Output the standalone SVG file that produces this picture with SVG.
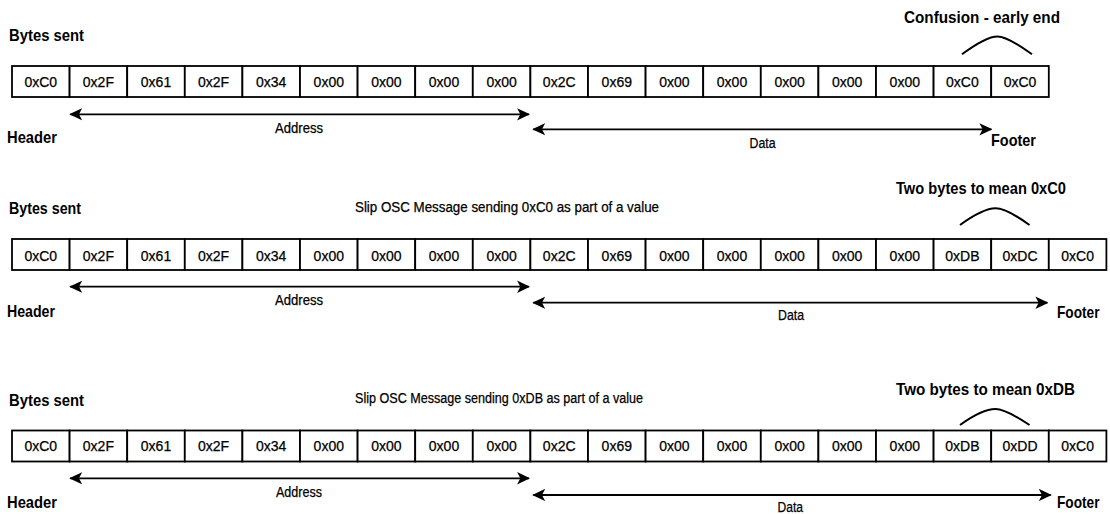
<svg xmlns="http://www.w3.org/2000/svg" width="1110" height="514" viewBox="0 0 1110 514">
<style>
.bg{fill:#fff}
.c rect{fill:#fff;stroke:#000;stroke-width:1.8}
.c text{font-family:"Liberation Sans",Arial,sans-serif;font-size:14px;text-anchor:middle;fill:#000;stroke:#000;stroke-width:0.25}
.b{font-family:"Liberation Sans",Arial,sans-serif;font-weight:bold;font-size:17px;fill:#000}
.r{font-family:"Liberation Sans",Arial,sans-serif;font-size:14px;fill:#000;stroke:#000;stroke-width:0.25}
.ln{stroke:#000;stroke-width:1.8;fill:none;marker-start:url(#ah);marker-end:url(#ah)}
.arc{stroke:#000;stroke-width:2;fill:none}
</style>
<defs>
<marker id="ah" viewBox="0 0 12 12" refX="11" refY="6" markerWidth="13" markerHeight="13" markerUnits="userSpaceOnUse" orient="auto-start-reverse">
<path d="M0,0.3 L12,6 L0,11.7 L3,6 Z" fill="#000"/>
</marker>
</defs>
<rect class="bg" x="0" y="0" width="1110" height="514"/>

<!-- Row 1 labels -->
<g id="row1-labels">
<text class="b" x="9" y="40.5" textLength="75" lengthAdjust="spacingAndGlyphs">Bytes sent</text>
<text class="b" x="904" y="23.3" textLength="156" lengthAdjust="spacingAndGlyphs">Confusion - early end</text>
<text class="b" x="7" y="143.3" textLength="50" lengthAdjust="spacingAndGlyphs">Header</text>
<text class="b" x="991" y="145.7" textLength="45" lengthAdjust="spacingAndGlyphs">Footer</text>
<text class="r" x="275" y="132.7" textLength="48" lengthAdjust="spacingAndGlyphs">Address</text>
<text class="r" x="749.5" y="147.7" textLength="26" lengthAdjust="spacingAndGlyphs">Data</text>
</g>

<!-- Row 1 cells -->
<g id="r1c0" class="c"><rect x="12" y="66" width="57.6" height="31"/><text x="40.8" y="87.3">0xC0</text></g>
<g id="r1c1" class="c"><rect x="69.6" y="66" width="57.6" height="31"/><text x="98.4" y="87.3">0x2F</text></g>
<g id="r1c2" class="c"><rect x="127.2" y="66" width="57.6" height="31"/><text x="156" y="87.3">0x61</text></g>
<g id="r1c3" class="c"><rect x="184.8" y="66" width="57.6" height="31"/><text x="213.6" y="87.3">0x2F</text></g>
<g id="r1c4" class="c"><rect x="242.4" y="66" width="57.6" height="31"/><text x="271.2" y="87.3">0x34</text></g>
<g id="r1c5" class="c"><rect x="300" y="66" width="57.6" height="31"/><text x="328.8" y="87.3">0x00</text></g>
<g id="r1c6" class="c"><rect x="357.6" y="66" width="57.6" height="31"/><text x="386.4" y="87.3">0x00</text></g>
<g id="r1c7" class="c"><rect x="415.2" y="66" width="57.6" height="31"/><text x="444" y="87.3">0x00</text></g>
<g id="r1c8" class="c"><rect x="472.8" y="66" width="57.6" height="31"/><text x="501.6" y="87.3">0x00</text></g>
<g id="r1c9" class="c"><rect x="530.4" y="66" width="57.6" height="31"/><text x="559.2" y="87.3">0x2C</text></g>
<g id="r1c10" class="c"><rect x="588" y="66" width="57.6" height="31"/><text x="616.8" y="87.3">0x69</text></g>
<g id="r1c11" class="c"><rect x="645.6" y="66" width="57.6" height="31"/><text x="674.4" y="87.3">0x00</text></g>
<g id="r1c12" class="c"><rect x="703.2" y="66" width="57.6" height="31"/><text x="732" y="87.3">0x00</text></g>
<g id="r1c13" class="c"><rect x="760.8" y="66" width="57.6" height="31"/><text x="789.6" y="87.3">0x00</text></g>
<g id="r1c14" class="c"><rect x="818.4" y="66" width="57.6" height="31"/><text x="847.2" y="87.3">0x00</text></g>
<g id="r1c15" class="c"><rect x="876" y="66" width="57.6" height="31"/><text x="904.8" y="87.3">0x00</text></g>
<g id="r1c16" class="c"><rect x="933.6" y="66" width="57.6" height="31"/><text x="962.4" y="87.3">0xC0</text></g>
<g id="r1c17" class="c"><rect x="991.2" y="66" width="57.6" height="31"/><text x="1020" y="87.3">0xC0</text></g>

<!-- Row 2 labels -->
<g id="row2-labels">
<text class="b" x="9" y="214" textLength="72" lengthAdjust="spacingAndGlyphs">Bytes sent</text>
<text class="r" x="355" y="211.7" textLength="304" lengthAdjust="spacingAndGlyphs">Slip OSC Message sending 0xC0 as part of a value</text>
<text class="b" x="896" y="194" textLength="170" lengthAdjust="spacingAndGlyphs">Two bytes to mean 0xC0</text>
<text class="b" x="7" y="316.7" textLength="48" lengthAdjust="spacingAndGlyphs">Header</text>
<text class="b" x="1057" y="317.7" textLength="42.5" lengthAdjust="spacingAndGlyphs">Footer</text>
<text class="r" x="275" y="305" textLength="48" lengthAdjust="spacingAndGlyphs">Address</text>
<text class="r" x="778" y="320" textLength="26" lengthAdjust="spacingAndGlyphs">Data</text>
</g>

<!-- Row 2 cells -->
<g id="r2c0" class="c"><rect x="12" y="239" width="57.6" height="31"/><text x="40.8" y="260.5">0xC0</text></g>
<g id="r2c1" class="c"><rect x="69.6" y="239" width="57.6" height="31"/><text x="98.4" y="260.5">0x2F</text></g>
<g id="r2c2" class="c"><rect x="127.2" y="239" width="57.6" height="31"/><text x="156" y="260.5">0x61</text></g>
<g id="r2c3" class="c"><rect x="184.8" y="239" width="57.6" height="31"/><text x="213.6" y="260.5">0x2F</text></g>
<g id="r2c4" class="c"><rect x="242.4" y="239" width="57.6" height="31"/><text x="271.2" y="260.5">0x34</text></g>
<g id="r2c5" class="c"><rect x="300" y="239" width="57.6" height="31"/><text x="328.8" y="260.5">0x00</text></g>
<g id="r2c6" class="c"><rect x="357.6" y="239" width="57.6" height="31"/><text x="386.4" y="260.5">0x00</text></g>
<g id="r2c7" class="c"><rect x="415.2" y="239" width="57.6" height="31"/><text x="444" y="260.5">0x00</text></g>
<g id="r2c8" class="c"><rect x="472.8" y="239" width="57.6" height="31"/><text x="501.6" y="260.5">0x00</text></g>
<g id="r2c9" class="c"><rect x="530.4" y="239" width="57.6" height="31"/><text x="559.2" y="260.5">0x2C</text></g>
<g id="r2c10" class="c"><rect x="588" y="239" width="57.6" height="31"/><text x="616.8" y="260.5">0x69</text></g>
<g id="r2c11" class="c"><rect x="645.6" y="239" width="57.6" height="31"/><text x="674.4" y="260.5">0x00</text></g>
<g id="r2c12" class="c"><rect x="703.2" y="239" width="57.6" height="31"/><text x="732" y="260.5">0x00</text></g>
<g id="r2c13" class="c"><rect x="760.8" y="239" width="57.6" height="31"/><text x="789.6" y="260.5">0x00</text></g>
<g id="r2c14" class="c"><rect x="818.4" y="239" width="57.6" height="31"/><text x="847.2" y="260.5">0x00</text></g>
<g id="r2c15" class="c"><rect x="876" y="239" width="57.6" height="31"/><text x="904.8" y="260.5">0x00</text></g>
<g id="r2c16" class="c"><rect x="933.6" y="239" width="57.6" height="31"/><text x="962.4" y="260.5">0xDB</text></g>
<g id="r2c17" class="c"><rect x="991.2" y="239" width="57.6" height="31"/><text x="1020" y="260.5">0xDC</text></g>
<g id="r2c18" class="c"><rect x="1048.8" y="239" width="57.6" height="31"/><text x="1077.6" y="260.5">0xC0</text></g>

<!-- Row 3 labels -->
<g id="row3-labels">
<text class="b" x="9" y="405.7" textLength="75" lengthAdjust="spacingAndGlyphs">Bytes sent</text>
<text class="r" x="355" y="402.7" textLength="288" lengthAdjust="spacingAndGlyphs">Slip OSC Message sending 0xDB as part of a value</text>
<text class="b" x="896" y="395" textLength="179" lengthAdjust="spacingAndGlyphs">Two bytes to mean 0xDB</text>
<text class="b" x="7" y="508.3" textLength="50" lengthAdjust="spacingAndGlyphs">Header</text>
<text class="b" x="1057" y="508.3" textLength="42.5" lengthAdjust="spacingAndGlyphs">Footer</text>
<text class="r" x="276" y="496.7" textLength="46" lengthAdjust="spacingAndGlyphs">Address</text>
<text class="r" x="777.5" y="511.7" textLength="25.5" lengthAdjust="spacingAndGlyphs">Data</text>
</g>

<!-- Row 3 cells -->
<g id="r3c0" class="c"><rect x="12" y="430.5" width="57.6" height="31"/><text x="40.8" y="451">0xC0</text></g>
<g id="r3c1" class="c"><rect x="69.6" y="430.5" width="57.6" height="31"/><text x="98.4" y="451">0x2F</text></g>
<g id="r3c2" class="c"><rect x="127.2" y="430.5" width="57.6" height="31"/><text x="156" y="451">0x61</text></g>
<g id="r3c3" class="c"><rect x="184.8" y="430.5" width="57.6" height="31"/><text x="213.6" y="451">0x2F</text></g>
<g id="r3c4" class="c"><rect x="242.4" y="430.5" width="57.6" height="31"/><text x="271.2" y="451">0x34</text></g>
<g id="r3c5" class="c"><rect x="300" y="430.5" width="57.6" height="31"/><text x="328.8" y="451">0x00</text></g>
<g id="r3c6" class="c"><rect x="357.6" y="430.5" width="57.6" height="31"/><text x="386.4" y="451">0x00</text></g>
<g id="r3c7" class="c"><rect x="415.2" y="430.5" width="57.6" height="31"/><text x="444" y="451">0x00</text></g>
<g id="r3c8" class="c"><rect x="472.8" y="430.5" width="57.6" height="31"/><text x="501.6" y="451">0x00</text></g>
<g id="r3c9" class="c"><rect x="530.4" y="430.5" width="57.6" height="31"/><text x="559.2" y="451">0x2C</text></g>
<g id="r3c10" class="c"><rect x="588" y="430.5" width="57.6" height="31"/><text x="616.8" y="451">0x69</text></g>
<g id="r3c11" class="c"><rect x="645.6" y="430.5" width="57.6" height="31"/><text x="674.4" y="451">0x00</text></g>
<g id="r3c12" class="c"><rect x="703.2" y="430.5" width="57.6" height="31"/><text x="732" y="451">0x00</text></g>
<g id="r3c13" class="c"><rect x="760.8" y="430.5" width="57.6" height="31"/><text x="789.6" y="451">0x00</text></g>
<g id="r3c14" class="c"><rect x="818.4" y="430.5" width="57.6" height="31"/><text x="847.2" y="451">0x00</text></g>
<g id="r3c15" class="c"><rect x="876" y="430.5" width="57.6" height="31"/><text x="904.8" y="451">0x00</text></g>
<g id="r3c16" class="c"><rect x="933.6" y="430.5" width="57.6" height="31"/><text x="962.4" y="451">0xDB</text></g>
<g id="r3c17" class="c"><rect x="991.2" y="430.5" width="57.6" height="31"/><text x="1020" y="451">0xDD</text></g>
<g id="r3c18" class="c"><rect x="1048.8" y="430.5" width="57.6" height="31"/><text x="1077.6" y="451">0xC0</text></g>

<!-- Connectors -->
<g id="connectors">
<line class="ln" x1="70.3" y1="114.3" x2="529" y2="114.3"/>
<line class="ln" x1="533.3" y1="129.3" x2="991.3" y2="129.3"/>
<line class="ln" x1="70.3" y1="286.7" x2="529" y2="286.7"/>
<line class="ln" x1="533.3" y1="302.7" x2="1047.3" y2="302.7"/>
<line class="ln" x1="70.3" y1="478.3" x2="529" y2="478.3"/>
<line class="ln" x1="533.3" y1="495" x2="1050.7" y2="495"/>
<path class="arc" d="M962,54.3 C980,41 990,36.5 997.5,36.5 C1005,36.5 1015,42 1032,54.3"/>
<path class="arc" d="M960,225 C978,212 988,208.3 995.5,208.3 C1003,208.3 1013,213 1029.5,225"/>
<path class="arc" d="M960,425 C978,412 988,409 995.5,409 C1003,409 1013,414 1029.5,425"/>
</g>
</svg>
